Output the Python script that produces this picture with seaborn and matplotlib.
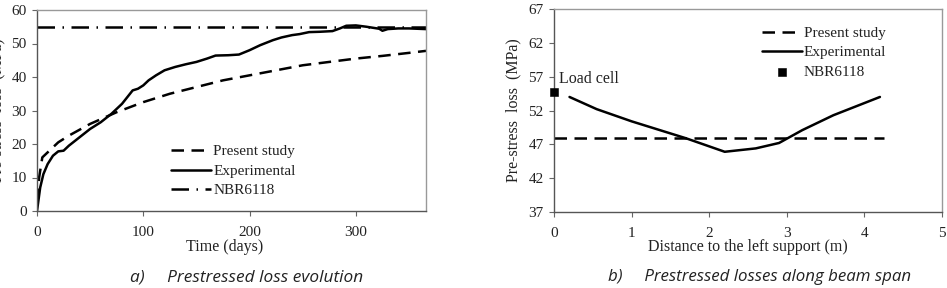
import numpy as np
import pandas as pd
import matplotlib
matplotlib.use("Agg")
import matplotlib.pyplot as plt
import seaborn as sns

# ---- data: panel a) ----
t_present = [0, 2, 5, 10, 20, 30, 50, 75, 100, 125, 150, 175, 200, 225, 250, 275, 300, 325, 350, 366]
v_present = [3, 10, 16, 17.5, 20.5, 22.5, 26, 29.5, 32.5, 35, 37, 39, 40.5, 42, 43.5, 44.5, 45.5, 46.3, 47.2, 47.8]

t_exp = [0, 3, 6, 10, 15, 20, 25, 30, 40, 50, 60, 70, 80, 85, 90, 95, 100, 105, 112, 120, 130, 140,
         150, 160, 168, 180, 190, 200, 210, 222, 230, 240, 247, 256, 266, 278, 285, 291, 300, 310,
         318, 322, 325, 330, 340, 350, 366]
v_exp = [0, 7, 11, 14, 16.5, 17.8, 18, 19.5, 22, 24.5, 26.5, 29, 32, 34, 36, 36.5, 37.5, 39, 40.5,
         42, 43, 43.8, 44.5, 45.5, 46.4, 46.5, 46.7, 48, 49.5, 51, 51.8, 52.5, 52.8, 53.4, 53.5,
         53.7, 54.5, 55.3, 55.4, 55, 54.6, 54.4, 53.8, 54.3, 54.5, 54.5, 54.3]

t_nbr = [0, 366]
v_nbr = [54.8, 54.8]

# ---- data: panel b) ----
x_present_b = [0, 4.25]
v_present_b = [48, 48]
x_exp_b = [0.2, 0.55, 1.0, 1.7, 2.2, 2.6, 2.9, 3.2, 3.6, 4.2]
v_exp_b = [54, 52.2, 50.4, 47.9, 45.9, 46.4, 47.2, 49.1, 51.3, 54]
x_nbr_b = [0]
v_nbr_b = [54.7]

xticks_a = [0, 100, 200, 300]
yticks_a = [0, 10, 20, 30, 40, 50, 60]
xticks_b = [0, 1, 2, 3, 4, 5]
yticks_b = [37, 42, 47, 52, 57, 62, 67]

sns.set_theme(style="white")
plt.rcParams['font.family'] = ['Liberation Serif', 'DejaVu Serif']

W, H = 947, 288
fig = plt.figure(figsize=(W / 100, H / 100), dpi=100)

def rect(x0, x1, ytop, ybot):
    return [x0 / W, (H - ybot) / H, (x1 - x0) / W, (ybot - ytop) / H]

ax1 = fig.add_axes(rect(37, 426, 10, 211))
ax2 = fig.add_axes(rect(554, 942, 9, 212))

dash = (0, (5, 3))
dashdot = (0, (7, 3, 0.6, 3))

df_p = pd.DataFrame({"t": t_present, "v": v_present})
df_e = pd.DataFrame({"t": t_exp, "v": v_exp})
df_n = pd.DataFrame({"t": t_nbr, "v": v_nbr})

sns.lineplot(data=df_p, x="t", y="v", ax=ax1, color="black", lw=1.8, linestyle=dash, label="Present study")
sns.lineplot(data=df_e, x="t", y="v", ax=ax1, color="black", lw=1.8, label="Experimental")
sns.lineplot(data=df_n, x="t", y="v", ax=ax1, color="black", lw=1.8, linestyle=dashdot, label="NBR6118")

dfb_p = pd.DataFrame({"x": x_present_b, "v": v_present_b})
dfb_e = pd.DataFrame({"x": x_exp_b, "v": v_exp_b})
dfb_n = pd.DataFrame({"x": x_nbr_b, "v": v_nbr_b})
sns.lineplot(data=dfb_p, x="x", y="v", ax=ax2, color="black", lw=1.8, linestyle=dash, label="Present study")
sns.lineplot(data=dfb_e, x="x", y="v", ax=ax2, color="black", lw=1.8, label="Experimental")
sns.scatterplot(data=dfb_n, x="x", y="v", ax=ax2, color="black", marker="s", s=26,
                edgecolor="black", label="NBR6118", zorder=5, clip_on=False)
ax2.text(0.06, 56.7, "Load cell", fontsize=11.5, ha="left", va="center", color="#222")

for ax, xt, yt, xl, yl in [(ax1, xticks_a, yticks_a, (0, 366), (0, 60)),
                           (ax2, xticks_b, yticks_b, (0, 5), (37, 67))]:
    ax.set_xlim(*xl)
    ax.set_ylim(*yl)
    ax.set_xticks(xt)
    ax.set_yticks(yt)
    ax.tick_params(axis="both", direction="out", length=3.5, width=0.8, color="#666",
                   labelsize=11, labelcolor="#222", bottom=True, left=True)
    ax.tick_params(axis="x", pad=7)
    ax.tick_params(axis="y", pad=4)
    for s in ["left", "bottom"]:
        ax.spines[s].set_color("#555")
        ax.spines[s].set_linewidth(1.0)
    for s in ["top", "right"]:
        ax.spines[s].set_color("#999")
        ax.spines[s].set_linewidth(1.0)
    ax.set_facecolor("white")

ax1.set_xlabel("Time (days)", fontsize=11.5, color="#222")
ax1.xaxis.set_label_coords((225 - 37) / 389, -(247 - 211) / 201, transform=ax1.transAxes)
ax1.xaxis.label.set_va("center")
ax1.set_ylabel("Pre-stress  loss  (MPa)", fontsize=11.5, color="#222")
ax1.yaxis.set_label_coords(-(37 + 3) / 389, 0.5, transform=ax1.transAxes)
ax1.yaxis.label.set_va("center")
ax2.set_xlabel("Distance to the left support (m)", fontsize=11.5, color="#222")
ax2.xaxis.set_label_coords(0.5, -(247 - 212) / 203, transform=ax2.transAxes)
ax2.xaxis.label.set_va("center")
ax2.set_ylabel("Pre-stress  loss  (MPa)", fontsize=11.5, color="#222")
ax2.yaxis.set_label_coords(-(554 - 513) / 388, 0.5, transform=ax2.transAxes)
ax2.yaxis.label.set_va("center")

leg1 = ax1.legend(loc="upper left", bbox_to_anchor=(0.33, 0.36), frameon=False, fontsize=11,
                  handlelength=2.6, handletextpad=0.15, labelspacing=0.38, borderaxespad=0)
leg2 = ax2.legend(loc="upper left", bbox_to_anchor=(0.52, 0.945), frameon=False, fontsize=11,
                  handlelength=2.6, handletextpad=0.15, labelspacing=0.38, borderaxespad=0)
for leg in (leg1, leg2):
    for txt in leg.get_texts():
        txt.set_color("#222")

cap_font = ["Open Sans", "DejaVu Sans"]
fig.text(130 / W, 1 - 277 / H, "a)     Prestressed loss evolution", fontsize=12.4, style="italic",
         family=cap_font, ha="left", va="center", color="#222")
fig.text(608 / W, 1 - 277 / H, "b)     Prestressed losses along beam span", fontsize=12.2, style="italic",
         family=cap_font, ha="left", va="center", color="#222")

fig.savefig("out.png", dpi=100, facecolor="white")
